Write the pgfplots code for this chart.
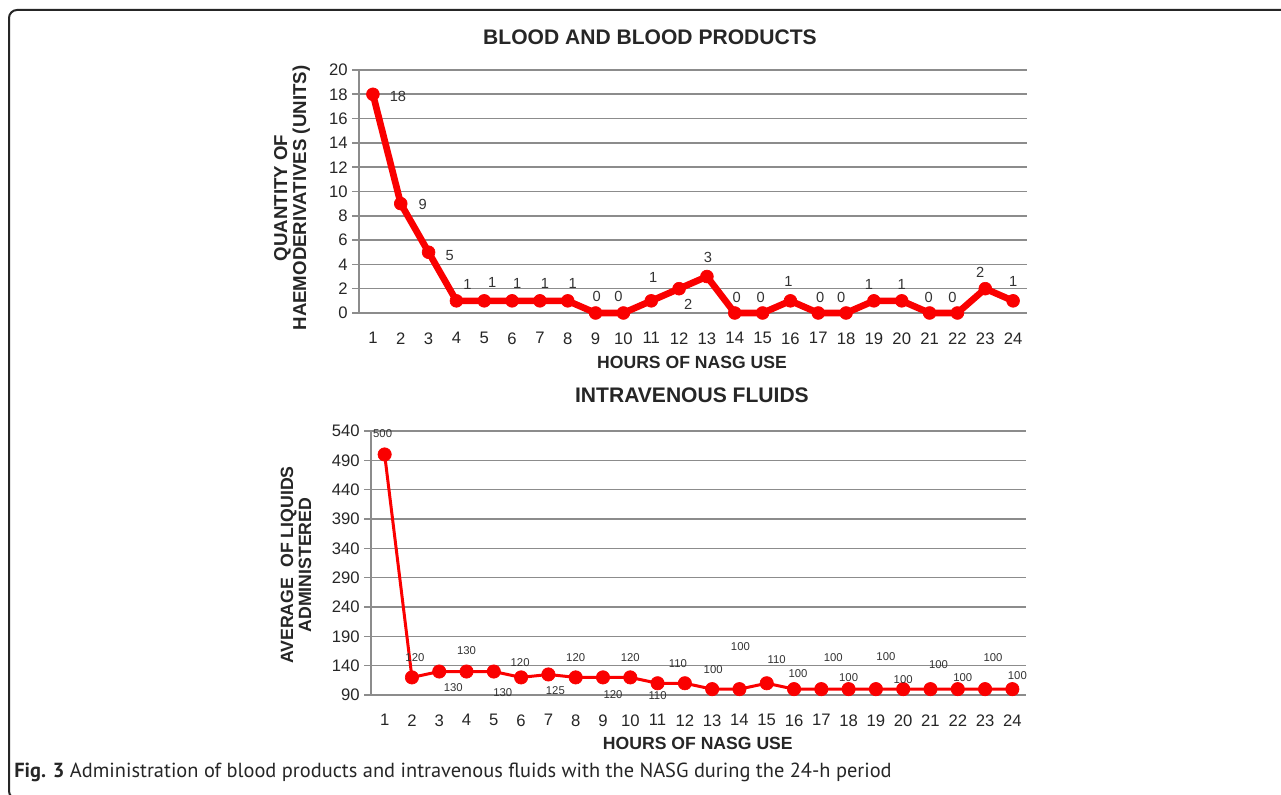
\documentclass[border=0pt]{standalone}
\usepackage{pgfplots}
\pgfplotsset{compat=1.18}
\usepackage{pgfplotstable}
\usepackage{fontspec}
\setmainfont{Liberation Sans}
\newfontfamily\capfont{PT Sans}
\definecolor{lred}{RGB}{250,0,0}
\definecolor{gridg}{RGB}{140,140,140}

% x = hour, y = value, dx/dy = label offset in px
\pgfplotstableread{
x y dx dy
1 18 25 -2
2 9 22 -1
3 5 21 -3
4 1 11 16
5 1 8 18
6 1 5 17
7 1 5 17
8 1 5 17
9 0 1 17
10 0 -5 17
11 1 2 23
12 2 9 -16
13 3 1 19
14 0 2 16
15 0 -2 16
16 1 -2 19
17 0 2 16
18 0 -5 16
19 1 -5 16
20 1 0 16
21 0 -1 16
22 0 -5 16
23 2 -5 16
24 1 0 19
}\blood

\pgfplotstableread{
x y dx dy
1 500 -2 21
2 120 3 20
3 130 14 -16
4 130 0 21
5 130 9 -21
6 120 -1 15
7 125 7 -16
8 120 0 20
9 120 10 -17
10 120 0 20
11 110 0 -12
12 110 -7 20
13 100 1 20
14 100 1 43
15 110 10 24
16 100 4 16
17 100 12 32
18 100 0 12
19 100 10 33
20 100 0 10
21 100 8 25
22 100 5 12
23 100 8 32
24 100 5 14
}\fluids

\begin{document}
\begin{tikzpicture}
\useasboundingbox (0,0) rectangle (960.75pt,596.25pt);
\begin{scope}
\clip (0,0) rectangle (960.75pt,596.25pt);
\draw[line width=1.5pt, rounded corners=6pt, black!85] (6.75pt,-3pt) rectangle (975pt,588.75pt);
\end{scope}
\coordinate (A) at (269.25pt,361.5pt);
\coordinate (B) at (278.25pt,75pt);
\pgfplotsset{
 mychart/.style={
  scale only axis, clip=false,
  xmin=0.5, xmax=24.5,
  xtick={1,...,24},
  axis x line*=bottom, axis y line*=left,
  axis line style={gridg, line width=1.2pt},
  x axis line style={-}, y axis line style={-},
  ymajorgrids, grid style={gridg, line width=1.2pt},
  xtick style={draw=none},
  ytick style={gridg, line width=1.2pt},
  tick align=outside, major tick length=5pt,
  /pgf/number format/assume math mode=true,
  tick label style={font=\fontsize{12.5}{14}\selectfont, text=black!85},
  xticklabel style={yshift=-6pt},
  title style={font=\bfseries\fontsize{15.8}{18}\selectfont, anchor=center, text=black!85},
  xlabel style={font=\bfseries\fontsize{13.2}{15}\selectfont, anchor=center, text=black!85},
  ylabel style={anchor=center, align=center, text=black!85},
 }
}
\begin{axis}[mychart, at={(A)}, anchor=south west, width=501pt, height=182.25pt,
 ymin=0, ymax=20, ytick={0,2,...,20},
 title={BLOOD AND BLOOD PRODUCTS}, title style={at={(axis description cs:0.4356,1.103)}},
 xlabel={HOURS OF NASG USE}, xlabel style={at={(axis description cs:0.4985,-0.2016)}},
 ylabel={QUANTITY OF\\HAEMODERIVATIVES (UNITS)},
 ylabel style={at={(axis description cs:-0.1003,0.473)}, font=\bfseries\fontsize{14}{14.25}\selectfont},
]
\addplot[color=lred, line width=5pt, line join=round, mark=*, mark size=4.8pt,
  mark options={fill=lred, line width=0.5pt},
  visualization depends on={\thisrow{dx} \as \dx},
  visualization depends on={\thisrow{dy} \as \dy},
  nodes near coords,
  every node near coord/.append style={anchor=center, xshift=\dx*0.75pt, yshift=\dy*0.75pt, text=black!80, font=\fontsize{11}{12}\selectfont},
] table[x=x,y=y] {\blood};
\end{axis}

\begin{axis}[mychart, at={(B)}, anchor=south west, width=491.25pt, height=198pt,
 ymin=90, ymax=540, ytick={90,140,...,540},
 title={INTRAVENOUS FLUIDS}, title style={at={(axis description cs:0.49,1.106)}},
 xlabel={HOURS OF NASG USE}, xlabel style={at={(axis description cs:0.499,-0.182)}},
 ylabel={AVERAGE \ OF LIQUIDS\\ADMINISTERED},
 ylabel style={at={(axis description cs:-0.1145,0.492)}, font=\bfseries\fontsize{13.3}{13.5}\selectfont},
]
\addplot[color=lred, line width=2.25pt, line join=round, mark=*, mark size=5pt,
  mark options={fill=lred, line width=0.5pt},
  visualization depends on={\thisrow{dx} \as \dx},
  visualization depends on={\thisrow{dy} \as \dy},
  nodes near coords,
  every node near coord/.append style={anchor=center, xshift=\dx*0.75pt, yshift=\dy*0.75pt, text=black!80, font=\fontsize{8.5}{9}\selectfont},
] table[x=x,y=y] {\fluids};
\end{axis}

\node[anchor=west, inner sep=0pt, text=black!85] at (10.5pt,17.25pt) {\capfont\fontsize{15.3}{17}\selectfont\textbf{Fig. 3} Administration of blood products and intravenous fluids with the NASG during the 24-h period};
\end{tikzpicture}
\end{document}
